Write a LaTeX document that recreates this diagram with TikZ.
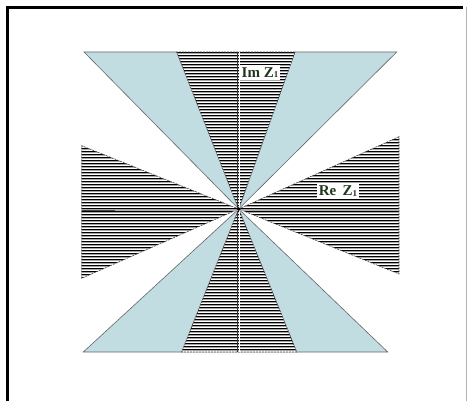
\documentclass[tikz,border=0pt]{standalone}
\usepackage{fontspec}
\setmainfont{Liberation Serif}
\begin{document}
\begin{tikzpicture}[x=1pt,y=-1pt,
  bluewedge/.style={fill=wedgeblue,draw=gray!80!black,line width=0.6},
  hatchline/.style={line width=0.9},
  lab/.style={fill=white,inner sep=2pt,text=labgreen,font=\fontsize{15}{16}\selectfont\bfseries}]
\definecolor{wedgeblue}{RGB}{193,221,226}
\definecolor{labgreen}{RGB}{30,55,30}
\useasboundingbox (0,0) rectangle (473,401);
\fill[white] (0,0) rectangle (473,401);
\coordinate (C) at (238.7,209);
% blue wedges
\path[bluewedge] (C) -- (84,52) -- (176.7,52) -- cycle;
\path[bluewedge] (C) -- (295,52) -- (396.7,52) -- cycle;
\path[bluewedge] (C) -- (83.3,352) -- (181.7,352) -- cycle;
\path[bluewedge] (C) -- (296.7,352) -- (387.7,352) -- cycle;
% hatched wedges
\foreach \wedge in {{(176.7,52) -- (295,52)},{(181.7,352) -- (296.7,352)},{(81.7,145.7) -- (81.7,278.3)},{(399,136.7) -- (399,274)}}{
  \begin{scope}
    \clip (C) -- \wedge -- cycle;
    \fill[white] (0,0) rectangle (473,401);
    \foreach \y in {40,43,...,370}{
      \draw[hatchline,black] (60,\y) -- (420,\y);
      \draw[hatchline,gray!70] (60,\y+1.5) -- (420,\y+1.5);
    }
  \end{scope}
  \draw[gray!60!black,line width=0.6,dash pattern=on 2pt off 1pt] (C) -- \wedge -- cycle;
}
% axes
\draw[gray!40!black,line width=1.1] (237.6,52) -- (237.6,352);
\draw[white,line width=1] (239.4,52) -- (239.4,352);
\draw[gray!55!black,line width=1] (82,210) -- (115,210);
\draw[gray!60,line width=1] (115,210) -- (400,210);
\fill[black] (C) circle (1.8);
% labels
\node[lab] (im) at (260,72.5) {Im Z\raisebox{-0.5pt}{\fontsize{9}{9}\selectfont 1}};
\node[lab] (re) at (338,191) {Re\, Z\raisebox{-0.5pt}{\fontsize{9}{9}\selectfont 1}};
% frame
\draw[black,line width=3] (7.5,401) -- (7.5,7.5) -- (463,7.5);
\draw[gray!60,line width=0.6] (466.5,7.5) -- (466.5,401);
\end{tikzpicture}
\end{document}
